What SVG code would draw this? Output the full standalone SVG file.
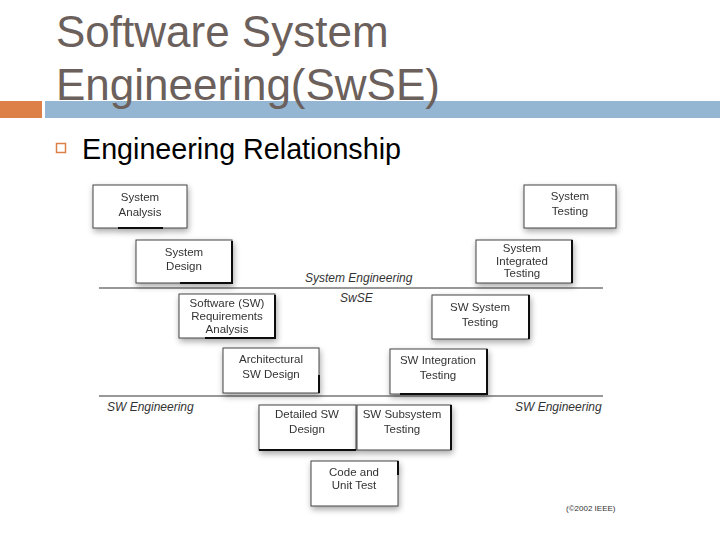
<svg xmlns="http://www.w3.org/2000/svg" width="720" height="540" viewBox="0 0 720 540">
<defs>
<filter id="sh" x="-20%" y="-20%" width="140%" height="150%">
<feGaussianBlur in="SourceAlpha" stdDeviation="3"/>
<feOffset dx="1" dy="3" result="b"/>
<feComponentTransfer><feFuncA type="linear" slope="0.35"/></feComponentTransfer>
<feMerge><feMergeNode/><feMergeNode in="SourceGraphic"/></feMerge>
</filter>
<style>
.title{font-family:"Liberation Sans",Arial,sans-serif;font-size:44px;fill:#6b605b}
.sub{font-family:"Liberation Sans",Arial,sans-serif;font-size:28.7px;fill:#000}
.box{fill:#fff;stroke:#444;stroke-width:1}
.edge{stroke:#111;stroke-width:2;fill:none}
.bt{font-family:"Liberation Sans",Arial,sans-serif;font-size:11.5px;fill:#333;text-anchor:middle}
.lbl{font-family:"Liberation Sans",Arial,sans-serif;font-size:12px;font-style:italic;fill:#333}
.sep{stroke:#333;stroke-width:1.2}
</style>
</defs>
<rect width="720" height="540" fill="#fff"/>
<rect x="0" y="101" width="42" height="17" fill="#dd8047"/>
<rect x="45" y="101" width="675" height="17" fill="#94b6d2"/>
<text class="title" x="56" y="47">Software System</text>
<text class="title" x="56" y="100">Engineering(SwSE)</text>
<rect x="56.5" y="143.5" width="9" height="9" fill="none" stroke="#dd8047" stroke-width="1.5"/>
<text class="sub" x="82" y="159">Engineering Relationship</text>

<g id="connectors">
<line class="sep" x1="99" y1="288" x2="603" y2="288"/>
<line class="sep" x1="99" y1="396" x2="603" y2="396"/>
</g>
<g id="labels">
<text class="lbl" x="305" y="282">System Engineering</text>
<text class="lbl" x="340" y="302">SwSE</text>
<text class="lbl" x="107" y="411">SW  Engineering</text>
<text class="lbl" x="515" y="411">SW  Engineering</text>
<text x="566" y="511" font-family="Liberation Sans,Arial,sans-serif" font-size="8" fill="#333">(©2002 IEEE)</text>
</g>

<g id="sys-analysis" filter="url(#sh)">
<rect class="box" x="93" y="185" width="94" height="43"/>
<path class="edge" d="M118 228H163"/>
<text class="bt" x="140" y="201">System</text><text class="bt" x="140" y="216">Analysis</text>
</g>
<g id="sys-design" filter="url(#sh)">
<rect class="box" x="136" y="240" width="96" height="43"/>
<path class="edge" d="M232 241V283H180"/>
<text class="bt" x="184" y="256">System</text><text class="bt" x="184" y="270">Design</text>
</g>
<g id="sw-req" filter="url(#sh)">
<rect class="box" x="179" y="294" width="96" height="44"/>
<path class="edge" d="M275 295V338H205"/>
<text class="bt" x="227" y="307">Software (SW)</text><text class="bt" x="227" y="320">Requirements</text><text class="bt" x="227" y="333">Analysis</text>
</g>
<g id="arch-design" filter="url(#sh)">
<rect class="box" x="223" y="348" width="96" height="45"/>
<path class="edge" d="M319 375V393"/>
<text class="bt" x="271" y="363">Architectural</text><text class="bt" x="271" y="378">SW Design</text>
</g>
<g id="detailed-design" filter="url(#sh)">
<rect class="box" x="259" y="405" width="97" height="45"/>
<path class="edge" d="M259 450H356"/>
<text class="bt" x="307" y="418">Detailed SW</text><text class="bt" x="307" y="433">Design</text>
</g>
<g id="code-unit" filter="url(#sh)">
<rect class="box" x="311" y="461" width="87" height="45"/>
<path class="edge" d="M398 461V475"/>
<text class="bt" x="354" y="476">Code and</text><text class="bt" x="354" y="489">Unit Test</text>
</g>
<g id="sw-subsystem" filter="url(#sh)">
<rect class="box" x="357" y="405" width="94" height="45"/>
<path class="edge" d="M451 405V450"/>
<text class="bt" x="402" y="418">SW Subsystem</text><text class="bt" x="402" y="433">Testing</text>
</g>
<g id="sw-integration" filter="url(#sh)">
<rect class="box" x="390" y="349" width="97" height="45"/>
<path class="edge" d="M487 349V394H400"/>
<text class="bt" x="438" y="364">SW Integration</text><text class="bt" x="438" y="379">Testing</text>
</g>
<g id="sw-system" filter="url(#sh)">
<rect class="box" x="432" y="295" width="97" height="44"/>
<path class="edge" d="M529 295V339"/>
<text class="bt" x="480" y="311">SW System</text><text class="bt" x="480" y="326">Testing</text>
</g>
<g id="sys-integrated" filter="url(#sh)">
<rect class="box" x="476" y="240" width="96" height="43"/>
<path class="edge" d="M572 240V283"/>
<text class="bt" x="522" y="252">System</text><text class="bt" x="522" y="265">Integrated</text><text class="bt" x="522" y="277">Testing</text>
</g>
<g id="sys-testing" filter="url(#sh)">
<rect class="box" x="524" y="185" width="92" height="43"/>
<text class="bt" x="570" y="200">System</text><text class="bt" x="570" y="215">Testing</text>
</g>
</svg>
